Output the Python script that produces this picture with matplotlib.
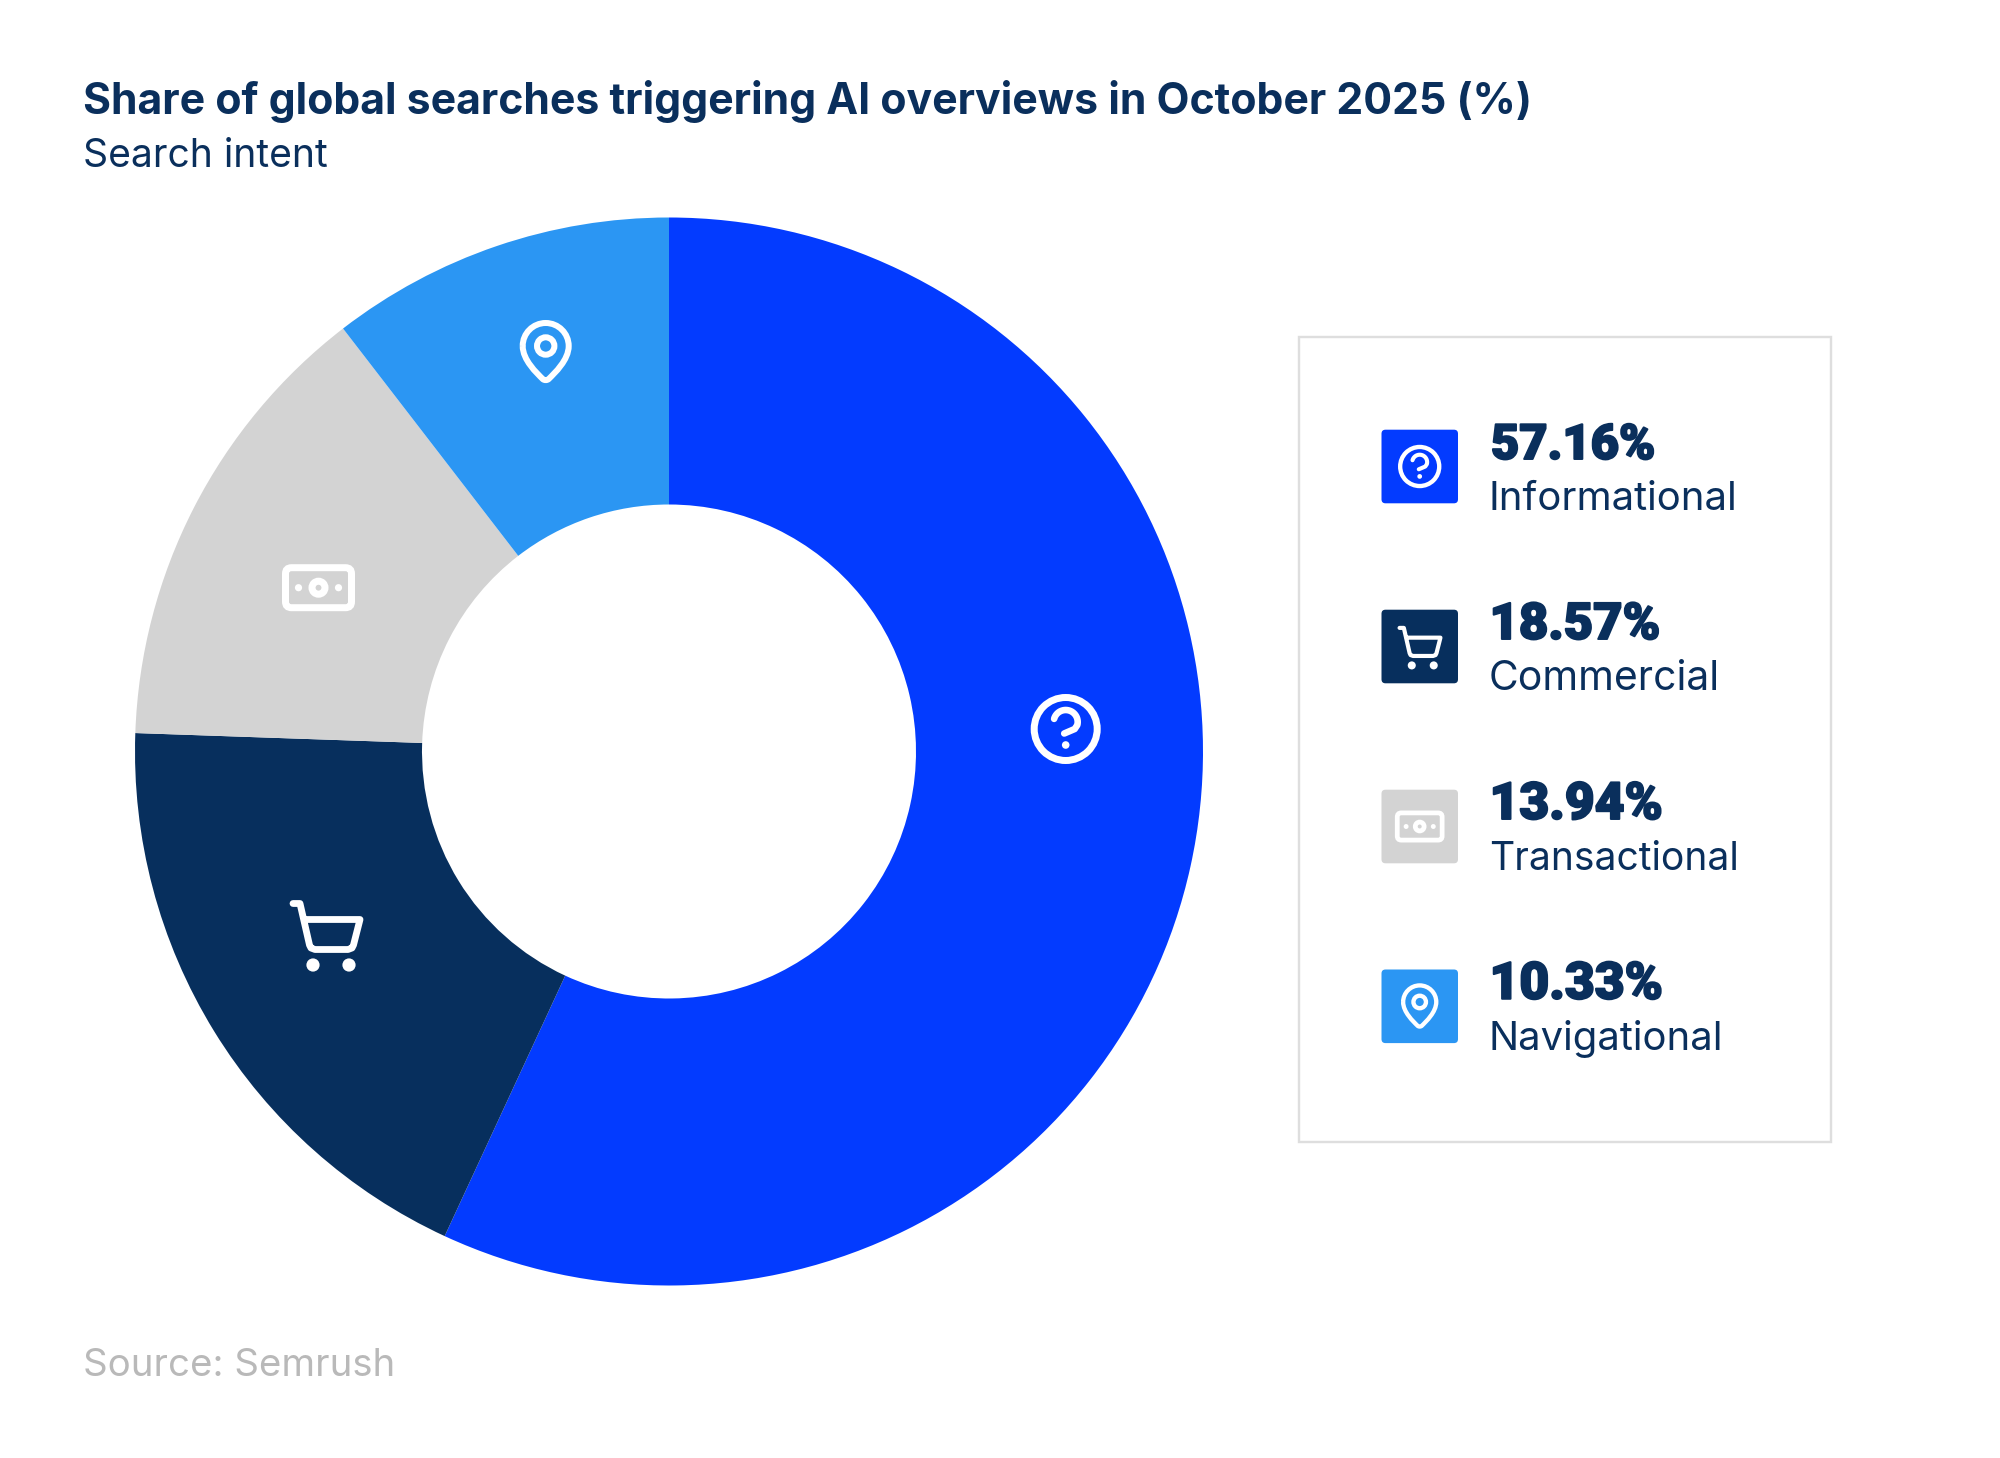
import numpy as np
import matplotlib
matplotlib.use("Agg")
import matplotlib.pyplot as plt
import matplotlib.patheffects as pe
from matplotlib.patches import FancyBboxPatch, Circle, Rectangle, PathPatch
from matplotlib.path import Path

title_text = "Share of global searches triggering AI overviews in October 2025 (%)"
subtitle_text = "Search intent"
source_text = "Source: Semrush"
categories = ["Informational", "Commercial", "Transactional", "Navigational"]
value_labels = ["57.16%", "18.57%", "13.94%", "10.33%"]
# slice shares as drawn in the picture (measured from the slice edges)
drawn_shares = [56.9, 18.65, 14.0, 10.45]
colors = ["#033BFF", "#072F5D", "#D3D3D3", "#2B96F3"]
icons = ["question", "cart", "money", "pin"]

NAVY = "#0A2F5C"
W, H = 2000, 1458
fig = plt.figure(figsize=(W / 100, H / 100), dpi=100, facecolor="white")

# donut
cx, cy, R, r = 669, 751.5, 534, 247
axp = fig.add_axes([(cx - R) / W, (H - cy - R) / H, 2 * R / W, 2 * R / H])
axp.pie(drawn_shares, colors=colors, startangle=90, counterclock=False, radius=1,
        wedgeprops=dict(width=1 - r / R, linewidth=0))
axp.set_xlim(-1, 1)
axp.set_ylim(-1, 1)
axp.axis("off")

# pixel overlay
ax = fig.add_axes([0, 0, 1, 1], facecolor="none")
ax.set_xlim(0, W)
ax.set_ylim(H, 0)
ax.axis("off")
renderer = fig.canvas.get_renderer()


def fit_text(x, y, s, width, **kw):
    t = ax.text(x, y, s, va="baseline", ha="left", **kw)
    size = t.get_fontsize()
    w = t.get_window_extent(renderer).width
    t.set_fontsize(size * width / w)
    return t


def stroke(px, py, lw, color):
    ax.plot(px, py, color=color, lw=lw * 0.72, solid_capstyle="round",
            solid_joinstyle="round")


def ring(x, y, rad, lw, color):
    ax.add_patch(Circle((x, y), rad, fill=False, ec=color, lw=lw * 0.72))


def dot(x, y, rad, color):
    ax.add_patch(Circle((x, y), rad, fc=color, ec="none"))


def draw_icon(kind, x, y, s, color="white"):
    if kind == "question":
        ring(x, y, 31.5 * s, 7 * s, color)
        a = np.radians(np.linspace(195, 375, 30))
        hx = 12 * np.cos(a) * s
        hy = (-7 + 12 * np.sin(a)) * s
        px = np.r_[hx, 9 * s, -1.5 * s]
        py = np.r_[hy, 0, 4.5 * s]
        stroke(x + px, y + py, 6.6 * s, color)
        dot(x, y + 16 * s, 3.8 * s, color)
    elif kind == "cart":
        px = np.array([-33, -26, -16.5, -15, -11, 22, 26, 27.5, 34, -21])
        py = np.array([-30.5, -30.5, 11, 14, 15.5, 15.5, 14, 11, -14.5, -14.5])
        stroke(x + px * s, y + py * s, 6.8 * s, color)
        dot(x - 13 * s, y + 31 * s, 6.6 * s, color)
        dot(x + 23 * s, y + 31 * s, 6.6 * s, color)
    elif kind == "money":
        ax.add_patch(FancyBboxPatch((x - 33 * s, y - 20 * s), 66 * s, 40 * s,
                                    boxstyle=f"round,pad=0,rounding_size={6 * s}",
                                    fill=False, ec=color, lw=7 * s * 0.72))
        ring(x, y, 6.5 * s, 7 * s, color)
        dot(x - 20 * s, y, 3.6 * s, color)
        dot(x + 20 * s, y, 3.6 * s, color)
    elif kind == "pin":
        c = y - 6 * s
        q = 23 * s
        k = 0.5523 * q
        verts = [(x - q, c), (x - q, c - k), (x - k, c - q), (x, c - q),
                 (x + k, c - q), (x + q, c - k), (x + q, c),
                 (x + q, c + 14 * s), (x + 9 * s, c + 27 * s), (x + 3 * s, c + 33 * s),
                 (x + 1.5 * s, c + 34.5 * s), (x - 1.5 * s, c + 34.5 * s), (x - 3 * s, c + 33 * s),
                 (x - 9 * s, c + 27 * s), (x - q, c + 14 * s), (x - q, c)]
        codes = [Path.MOVETO] + [Path.CURVE4] * 15
        ax.add_patch(PathPatch(Path(verts, codes), fill=False, ec=color,
                               lw=6 * s * 0.72, joinstyle="round"))
        ring(x, c, 8.7 * s, 6 * s, color)


# icons on donut
draw_icon("question", 1065.7, 729, 1)
draw_icon("pin", 545.7, 352, 1)
draw_icon("money", 318.5, 587.7, 1)
draw_icon("cart", 326, 934, 1)

# legend box
ax.add_patch(Rectangle((1299, 336.5), 532, 805.5, fill=False, ec="#DEDEDE", lw=2.4 * 0.72))

# legend rows
row_y = [466.5, 646.5, 826.5, 1006.3]
icon_scale = {"question": 0.62, "cart": 0.61, "money": 0.68, "pin": 0.72}
val_x = [1491, 1489.5, 1489.5, 1489.5]
val_w = [164.5, 171, 173.5, 173.5]
lab_w = [249, 231, 250, 235]
for i, yy in enumerate(row_y):
    ax.add_patch(FancyBboxPatch((1381.5, yy - 36.8), 76.5, 73.6,
                                boxstyle="round,pad=0,rounding_size=4",
                                fc=colors[i], ec="none"))
    draw_icon(icons[i], 1419.7, yy, icon_scale[icons[i]])
    vt = fit_text(val_x[i], yy - 7.5, value_labels[i], val_w[i], family="Roboto",
                  weight="black", color=NAVY, fontsize=36)
    vt.set_path_effects([pe.withStroke(linewidth=1.4, foreground=NAVY)])
    fit_text(1489, yy + 43.5, categories[i], lab_w[i], family="Inter",
             color=NAVY, fontsize=30)

# header/footer
fit_text(83, 114, title_text, 1449, family="Inter", weight="bold",
         color=NAVY, fontsize=30)
fit_text(83, 167, subtitle_text, 245, family="Inter", color=NAVY, fontsize=28)
fit_text(83, 1376, source_text, 312, family="Inter", color="#B9B9B9", fontsize=28)

fig.savefig("out.png", dpi=100, facecolor="white")
